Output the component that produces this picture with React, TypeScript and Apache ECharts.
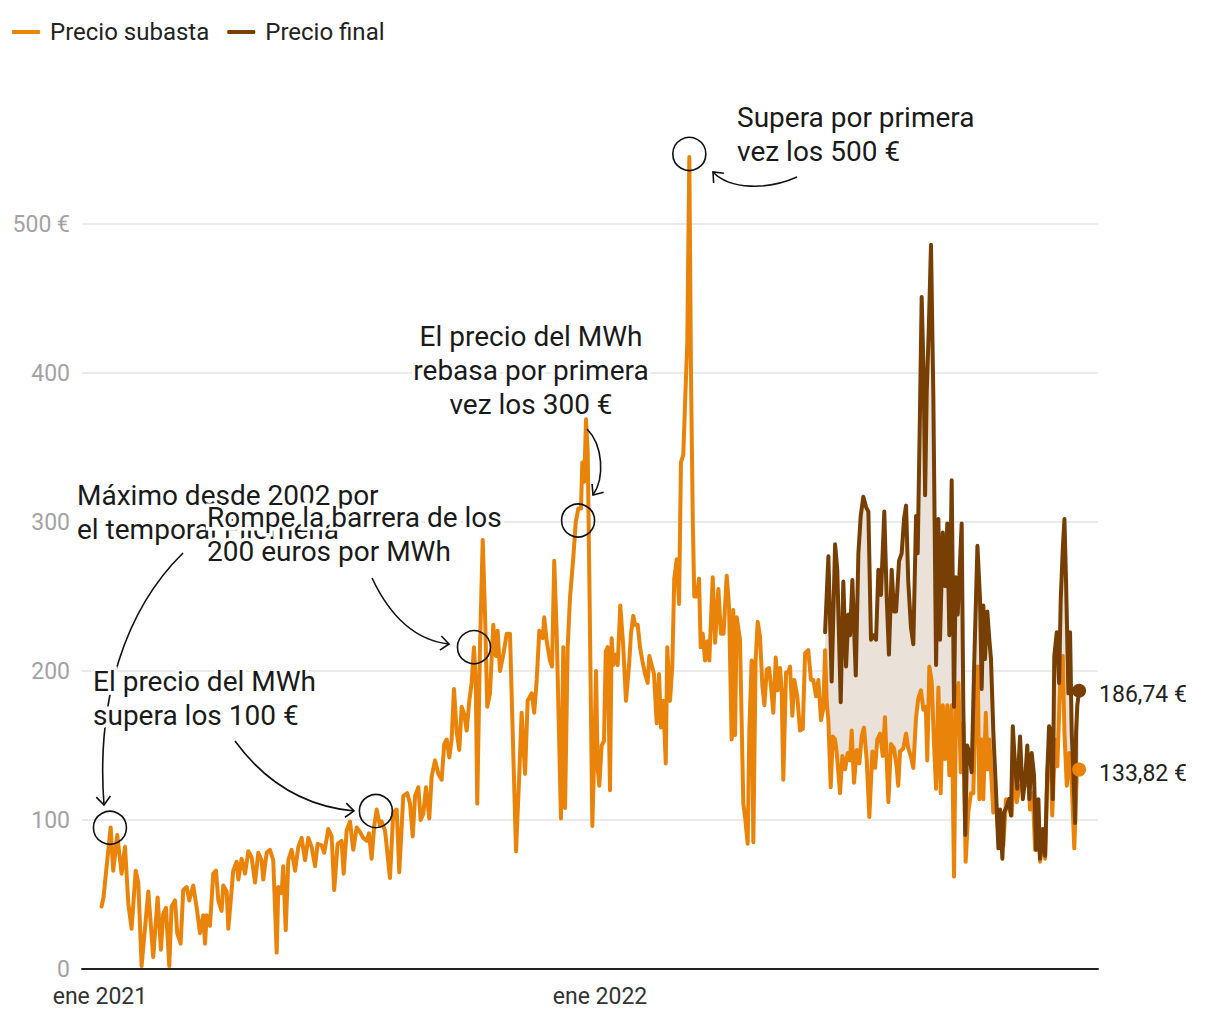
import React, { useEffect, useRef } from 'react';
import * as echarts from 'echarts';

// ---------- data (day offset from 1 Jan 2021, €/MWh) ----------
const SERIES_NAMES = ['Precio subasta', 'Precio final'];
const Y_MAX = 560;
const Y_INTERVAL = 100;
const X_MIN_DAY = -13.1;
const X_MAX_DAY = 728.5;
const MONTHS = ['ene', 'feb', 'mar', 'abr', 'may', 'jun', 'jul', 'ago', 'sep', 'oct', 'nov', 'dic'];
const END_LABELS = ['133,82 €', '186,74 €'];
const END_VALUES = [133.82, 186.74];

const subasta2021a = [
  [1.2, 42], [2.6, 48], [4.9, 69], [7.8, 95], [9.7, 66], [12.6, 90], [15.8, 64], [18.3, 82], [20.7, 44], [23.1, 27],
  [26.1, 66], [28.0, 58], [30.4, 2], [35.3, 52], [38.9, 8], [42.1, 48], [44.5, 13], [46.2, 37], [48.2, 41], [50.6, 2],
  [52.3, 42], [54.8, 46], [56.4, 24], [58.9, 17], [60.8, 53], [63.3, 55], [65.2, 46], [68.1, 56], [70.8, 40], [73.0, 24],
  [75.4, 36], [76.7, 17], [77.9, 36], [80.3, 29], [82.7, 64], [84.7, 66], [86.4, 46], [88.8, 39], [90.0, 56], [92.5, 52],
  [93.7, 27], [97.3, 66], [99.8, 72], [101.0, 60], [103.4, 74], [105.9, 64], [108.3, 79], [110.7, 75], [113.2, 58], [115.6, 78],
  [118.0, 73], [119.2, 60], [121.7, 78], [124.1, 80], [126.5, 73], [129.0, 11], [130.2, 55], [132.6, 51], [133.8, 69], [135.6, 26],
  [137.5, 73], [139.9, 80], [142.4, 66], [144.8, 82], [147.2, 88], [149.7, 73], [152.1, 88], [154.5, 82], [157.0, 69], [158.9, 84],
  [161.8, 83], [163.7, 78], [166.7, 94], [169.1, 89], [171.0, 53], [173.5, 84], [176.4, 86], [177.9, 64], [180.1, 93], [182.5, 99],
  [184.9, 80], [187.4, 95], [189.8, 92], [192.2, 88], [194.7, 86], [196.4, 91], [198.3, 74], [200.2, 96], [202.0, 107], [204.4, 96],
  [205.6, 99], [208.1, 93], [211.7, 61], [214.1, 105], [216.6, 107], [218.5, 65]
];

const subasta2021b = [
  [221.4, 116], [224.3, 118], [226.3, 111], [228.3, 89], [230.0, 116], [232.4, 122], [234.1, 100], [236.0, 104], [238.0, 122], [240.4, 101],
  [242.1, 129], [244.6, 140], [247.0, 131], [249.4, 127], [251.3, 151], [253.1, 154], [255.0, 142], [256.7, 154], [258.4, 188], [260.4, 159],
  [262.3, 147], [264.0, 176], [265.9, 171], [267.7, 160], [269.6, 180], [271.3, 192], [273.0, 216], [274.3, 194], [275.4, 111], [277.4, 216],
  [279.4, 288], [281.1, 237], [282.7, 176], [284.7, 185], [287.1, 231], [289.1, 210], [290.3, 227], [292.0, 200], [294.4, 211], [296.9, 225],
  [299.3, 225], [301.7, 145], [303.7, 79], [305.7, 122], [307.8, 172], [310.3, 131], [312.2, 180], [315.1, 185], [317.0, 172], [318.8, 194],
  [320.7, 227], [323.2, 222], [324.3, 236], [326.1, 220], [328.5, 207], [330.0, 203], [331.6, 274], [333.4, 225], [336.5, 101], [338.2, 216],
  [339.5, 108], [341.4, 216], [343.1, 249], [345.5, 276], [347.3, 300], [349.2, 309], [351.1, 309], [352.1, 340], [353.5, 327], [354.8, 369],
  [356.0, 348], [357.2, 264], [359.4, 96], [360.8, 144], [362.1, 200], [363.3, 135], [364.5, 123]
];

const subasta2022a = [
  [366.2, 150], [367.9, 153], [369.2, 213], [370.6, 216], [372.3, 120], [373.5, 222], [374.7, 204], [376.5, 211], [377.9, 204], [379.8, 244],
  [381.8, 219], [384.0, 180], [386.2, 204], [387.6, 225], [389.3, 237], [390.6, 231], [392.5, 231], [394.2, 216], [395.9, 207], [397.9, 198],
  [399.8, 192], [401.0, 210], [402.7, 204], [404.4, 198], [406.4, 165], [408.1, 198], [409.5, 162], [411.2, 180], [413.0, 138], [414.1, 216],
  [416.1, 180], [417.8, 204], [419.2, 262], [421.0, 275], [422.7, 245], [424.1, 340], [425.8, 345], [427.1, 380], [428.7, 420], [430.2, 545],
  [431.4, 400], [432.7, 303], [433.8, 250], [435.6, 250], [437.3, 262], [438.5, 216], [440.0, 225], [441.7, 207], [443.3, 220], [444.8, 207],
  [447.3, 263], [449.0, 219], [451.4, 255], [453.3, 225], [455.2, 225], [457.5, 264], [459.2, 243], [461.1, 154], [462.3, 241], [463.6, 157],
  [464.8, 236], [467.2, 221], [469.6, 111], [470.9, 102], [472.8, 84], [474.0, 160], [475.7, 207], [476.9, 85], [478.6, 207], [480.1, 233],
  [481.8, 223], [483.5, 190], [485.0, 177], [486.7, 201], [488.4, 202], [489.8, 190], [491.5, 172], [493.3, 209], [494.7, 187], [496.4, 202],
  [497.6, 187], [498.8, 127], [500.8, 199], [502.5, 199], [503.7, 203], [505.4, 170], [506.8, 194], [509.0, 183], [511.0, 160], [513.0, 161],
  [514.7, 212], [517.0, 214], [519.0, 194], [520.7, 194], [522.7, 183], [524.4, 194], [526.3, 167], [528.0, 175]
];

const subasta2022b = [
  [529.3, 214], [530.5, 179], [531.7, 167], [533.4, 122], [534.9, 156], [536.6, 154], [537.8, 145], [540.2, 118], [541.9, 143], [543.9, 134],
  [545.8, 145], [547.5, 140], [548.7, 160], [550.4, 125], [552.4, 147], [554.3, 138], [556.0, 156], [557.7, 162], [559.7, 140], [561.6, 102],
  [563.8, 146], [565.8, 135], [567.4, 154], [569.4, 158], [571.4, 143], [573.0, 169], [575.5, 112], [577.4, 151], [579.6, 148], [581.6, 135],
  [582.7, 123], [584.0, 146], [586.4, 148], [588.4, 158], [590.0, 148], [591.8, 143], [593.7, 135], [595.7, 169], [597.4, 182], [599.3, 187],
  [601.0, 174], [602.8, 176], [603.9, 140], [605.4, 203], [607.1, 193], [608.8, 151], [610.3, 121], [612.0, 189], [613.7, 118], [615.2, 177],
  [616.9, 141], [618.5, 177], [620.0, 130], [621.7, 177], [623.4, 62], [624.9, 177], [626.6, 192], [628.3, 132], [630.2, 165], [631.9, 72],
  [633.8, 105], [635.8, 118], [637.5, 118], [639.3, 181], [640.7, 203], [641.9, 114], [643.6, 154], [644.8, 114], [646.6, 172], [648.0, 134],
  [649.2, 154], [651.0, 123], [652.1, 105], [654.1, 109], [655.8, 91], [657.5, 105], [659.4, 83], [661.4, 114], [663.1, 109], [665.5, 103],
  [667.2, 136], [669.2, 112], [671.1, 123], [672.8, 121], [675.3, 123], [676.9, 141], [678.9, 107], [680.9, 118], [682.6, 80], [684.2, 103],
  [686.2, 72], [688.2, 91], [689.9, 74], [691.5, 132], [693.5, 154], [695.1, 103], [697.2, 154], [698.8, 136], [700.8, 190], [702.8, 210],
  [704.0, 159], [705.7, 123], [707.6, 145], [709.3, 125], [711.2, 81], [713.0, 130], [714.7, 133.82]
];

const final2022 = [
  [529.3, 226], [531.7, 277], [534.1, 193], [536.6, 285], [538.2, 268], [540.7, 179], [542.6, 260], [544.6, 203], [546.3, 238], [547.5, 224],
  [549.2, 261], [551.7, 197], [553.6, 279], [555.3, 304], [557.2, 317], [559.2, 310], [560.9, 307], [562.8, 221], [564.5, 224], [566.5, 221],
  [568.2, 268], [570.1, 251], [572.5, 307], [574.3, 249], [575.9, 211], [577.9, 268], [579.6, 240], [581.1, 240], [583.3, 274], [585.2, 279],
  [586.9, 302], [588.4, 311], [590.0, 260], [592.0, 229], [593.7, 218], [595.7, 304], [596.9, 279], [598.6, 377], [599.8, 451], [601.3, 396],
  [602.3, 318], [603.5, 388], [604.9, 427], [606.6, 486], [608.3, 385], [610.3, 204], [612.0, 302], [613.2, 221], [615.2, 293], [616.9, 257],
  [618.5, 299], [620.0, 224], [621.7, 328], [623.4, 176], [624.6, 263], [626.1, 238], [627.3, 263], [629.0, 299], [630.2, 175], [631.6, 90],
  [632.9, 150], [634.4, 146], [636.3, 132], [638.2, 207], [640.5, 284], [642.4, 248], [643.6, 188], [644.8, 244], [646.0, 208], [647.7, 240],
  [649.2, 221], [650.4, 208], [652.1, 159], [654.1, 118], [655.8, 81], [657.0, 107], [658.7, 74], [659.9, 105], [661.9, 109], [663.6, 114],
  [665.0, 103], [666.3, 163], [668.0, 136], [669.6, 121], [671.6, 156], [673.6, 114], [675.3, 127], [676.9, 150], [678.4, 114], [680.1, 145],
  [681.8, 130], [683.3, 80], [685.0, 114], [686.2, 74], [688.2, 94], [689.9, 76], [691.5, 132], [692.8, 163], [694.2, 159], [695.5, 114],
  [696.6, 210], [698.4, 226], [700.1, 192], [701.3, 248], [702.8, 282], [704.0, 302], [705.2, 259], [706.9, 185], [708.1, 226], [709.3, 159],
  [710.5, 132], [711.8, 98], [712.5, 159], [713.4, 177], [714.7, 186.74]
];

// annotation circles (data coordinates)
const circleDays = [7.3, 201.4, 273.0, 349.0, 430.2];
const circleValues = [94.8, 106, 216, 301, 547];

// annotation texts
const annotations = [
  { text: 'Supera por primera\nvez los 500 €', x: 737, y: 100, align: 'left' },
  { text: 'El precio del MWh\nrebasa por primera\nvez los 300 €', x: 531, y: 319, align: 'center' },
  { text: 'Máximo desde 2002 por\nel temporal Filomena', x: 77, y: 478, align: 'left' },
  { text: 'Rompe la barrera de los\n200 euros por MWh', x: 207, y: 500, align: 'left' },
  { text: 'El precio del MWh\nsupera los 100 €', x: 93, y: 664, align: 'left' }
];

// annotation arrows (cubic curves: start, cp1, cp2, end)
const arrows = [
  [183, 553, 125, 610, 96, 700, 104, 805],
  [235, 741, 262, 778, 300, 806, 354, 811],
  [372, 578, 388, 612, 412, 640, 449, 644],
  [587, 429, 603, 445, 605, 478, 593, 495],
  [797, 177, 768, 190, 730, 190, 713, 172]
];

// ---------- helpers ----------
const ORANGE = '#e9830a';
const BROWN = '#773f04';
const BAND = '#eae2d9';
const DAY_MS = 86400000;
const BASE = new Date(2021, 0, 1).getTime();
const ts = (d: number) => BASE + d * DAY_MS;
const toSeries = (arr: number[][]) => arr.map((p) => [ts(p[0]), p[1]]);

const subastaAll = [...subasta2021a, ...subasta2021b, ...subasta2022a, ...subasta2022b];

function arrowHead(tx: number, ty: number, bx: number, by: number) {
  const dx = tx - bx;
  const dy = ty - by;
  const len = Math.hypot(dx, dy) || 1;
  const ux = dx / len;
  const uy = dy / len;
  const L = 11;
  const a = (40 * Math.PI) / 180;
  const r1x = ux * Math.cos(a) - uy * Math.sin(a);
  const r1y = ux * Math.sin(a) + uy * Math.cos(a);
  const r2x = ux * Math.cos(-a) - uy * Math.sin(-a);
  const r2y = ux * Math.sin(-a) + uy * Math.cos(-a);
  return [
    [tx - L * r1x, ty - L * r1y],
    [tx, ty],
    [tx - L * r2x, ty - L * r2y]
  ];
}

function buildOption() {
  const graphics: any[] = [];
  arrows.forEach((a) => {
    graphics.push({
      type: 'bezierCurve',
      z: 50,
      silent: true,
      shape: { x1: a[0], y1: a[1], cpx1: a[2], cpy1: a[3], cpx2: a[4], cpy2: a[5], x2: a[6], y2: a[7] },
      style: { stroke: '#111', lineWidth: 1.6, fill: null }
    });
    graphics.push({
      type: 'polyline',
      z: 50,
      silent: true,
      shape: { points: arrowHead(a[6], a[7], a[4], a[5]) },
      style: { stroke: '#111', lineWidth: 1.6, fill: null }
    });
  });
  annotations.forEach((t, i) => {
    graphics.push({
      type: 'text',
      z: 60 + i,
      silent: true,
      x: t.x,
      y: t.y,
      style: {
        text: t.text,
        fontSize: 28,
        fontFamily: 'Roboto',
        lineHeight: 34,
        fill: '#1a1a1a',
        stroke: '#ffffff',
        lineWidth: 7,
        textAlign: t.align,
        textVerticalAlign: 'top'
      }
    });
  });

  const finalStart = final2022[0][0];
  const finalEnd = final2022[final2022.length - 1][0];
  const orangeInFinal = subasta2022b.filter((p) => p[0] >= finalStart && p[0] <= finalEnd);

  return {
    animation: false,
    textStyle: { fontFamily: 'Roboto' },
    legend: {
      data: SERIES_NAMES,
      left: 12,
      top: 20,
      padding: 0,
      icon: 'roundRect',
      itemWidth: 28,
      itemHeight: 4,
      itemGap: 18,
      textStyle: { fontSize: 24, color: '#222', padding: [0, 0, 0, 5] }
    },
    grid: { left: 82, right: 122, top: 969 - Y_MAX * 1.49, bottom: 51, containLabel: false, outerBoundsMode: 'none' },
    xAxis: {
      type: 'time',
      min: ts(X_MIN_DAY),
      max: ts(X_MAX_DAY),
      axisLine: { show: true, lineStyle: { color: '#222', width: 2 } },
      axisTick: { show: false },
      splitLine: { show: false },
      axisLabel: {
        fontSize: 23,
        color: '#333',
        margin: 16,
        showMinLabel: false,
        showMaxLabel: false,
        formatter: (v: number) => {
          const d = new Date(v);
          if (d.getMonth() === 0 && d.getDate() === 1 && d.getHours() === 0) return MONTHS[0] + ' ' + d.getFullYear();
          return '';
        }
      }
    },
    yAxis: {
      type: 'value',
      min: 0,
      max: Y_MAX,
      interval: Y_INTERVAL,
      axisLine: { show: false },
      axisTick: { show: false },
      axisLabel: {
        fontSize: 23,
        color: '#a3a3a3',
        margin: 12,
        formatter: (v: number) => (v === 500 ? '500 €' : v % Y_INTERVAL === 0 ? String(v) : '')
      },
      splitLine: {
        show: true,
        lineStyle: {
          color: ['#e3e3e3', '#e3e3e3', '#e3e3e3', '#e3e3e3', '#e3e3e3', '#e3e3e3', 'rgba(0,0,0,0)'],
          width: 1.5
        }
      }
    },
    series: [
      {
        type: 'custom',
        silent: true,
        z: 1,
        data: [[ts(finalStart), 200]],
        renderItem: (_p: any, api: any) => {
          const pts = [
            ...final2022.map((p) => api.coord([ts(p[0]), p[1]])),
            ...orangeInFinal.slice().reverse().map((p) => api.coord([ts(p[0]), p[1]]))
          ];
          return { type: 'polygon', shape: { points: pts }, style: { fill: BAND } };
        }
      },
      {
        name: SERIES_NAMES[0],
        type: 'line',
        z: 3,
        data: toSeries(subastaAll),
        showSymbol: false,
        symbol: 'none',
        color: ORANGE,
        itemStyle: { color: ORANGE },
        lineStyle: { color: ORANGE, width: 4, join: 'round', cap: 'round' },
        markPoint: {
          silent: true,
          symbol: 'circle',
          symbolSize: 33,
          itemStyle: { color: 'rgba(0,0,0,0)', borderColor: '#111', borderWidth: 1.6 },
          label: { show: false },
          data: circleDays.map((d, i) => ({ coord: [ts(d), circleValues[i]] }))
        }
      },
      {
        name: SERIES_NAMES[1],
        type: 'line',
        z: 4,
        data: toSeries(final2022),
        showSymbol: false,
        symbol: 'none',
        color: BROWN,
        itemStyle: { color: BROWN },
        lineStyle: { color: BROWN, width: 4, join: 'round', cap: 'round' }
      },
      {
        type: 'scatter',
        z: 5,
        silent: true,
        symbolSize: 14,
        data: [[ts(subasta2022b[subasta2022b.length - 1][0]), END_VALUES[0]]],
        itemStyle: { color: ORANGE, opacity: 1 },
        label: { show: true, position: 'right', distance: 13, offset: [0, 4], formatter: END_LABELS[0], fontSize: 23, color: '#222' }
      },
      {
        type: 'scatter',
        z: 5,
        silent: true,
        symbolSize: 14,
        data: [[ts(final2022[final2022.length - 1][0]), END_VALUES[1]]],
        itemStyle: { color: BROWN, opacity: 1 },
        label: { show: true, position: 'right', distance: 13, offset: [0, 4], formatter: END_LABELS[1], fontSize: 23, color: '#222' }
      }
    ],
    graphic: graphics
  };
}

export default function App() {
  const ref = useRef<HTMLDivElement>(null);
  useEffect(() => {
    if (!ref.current) return;
    const chart = echarts.init(ref.current, null, { renderer: 'svg' });
    chart.setOption(buildOption() as any);
    return () => chart.dispose();
  }, []);
  return (
    <div
      ref={ref}
      style={{ position: 'fixed', left: 0, top: 0, width: 1220, height: 1020, background: '#ffffff' }}
    />
  );
}
